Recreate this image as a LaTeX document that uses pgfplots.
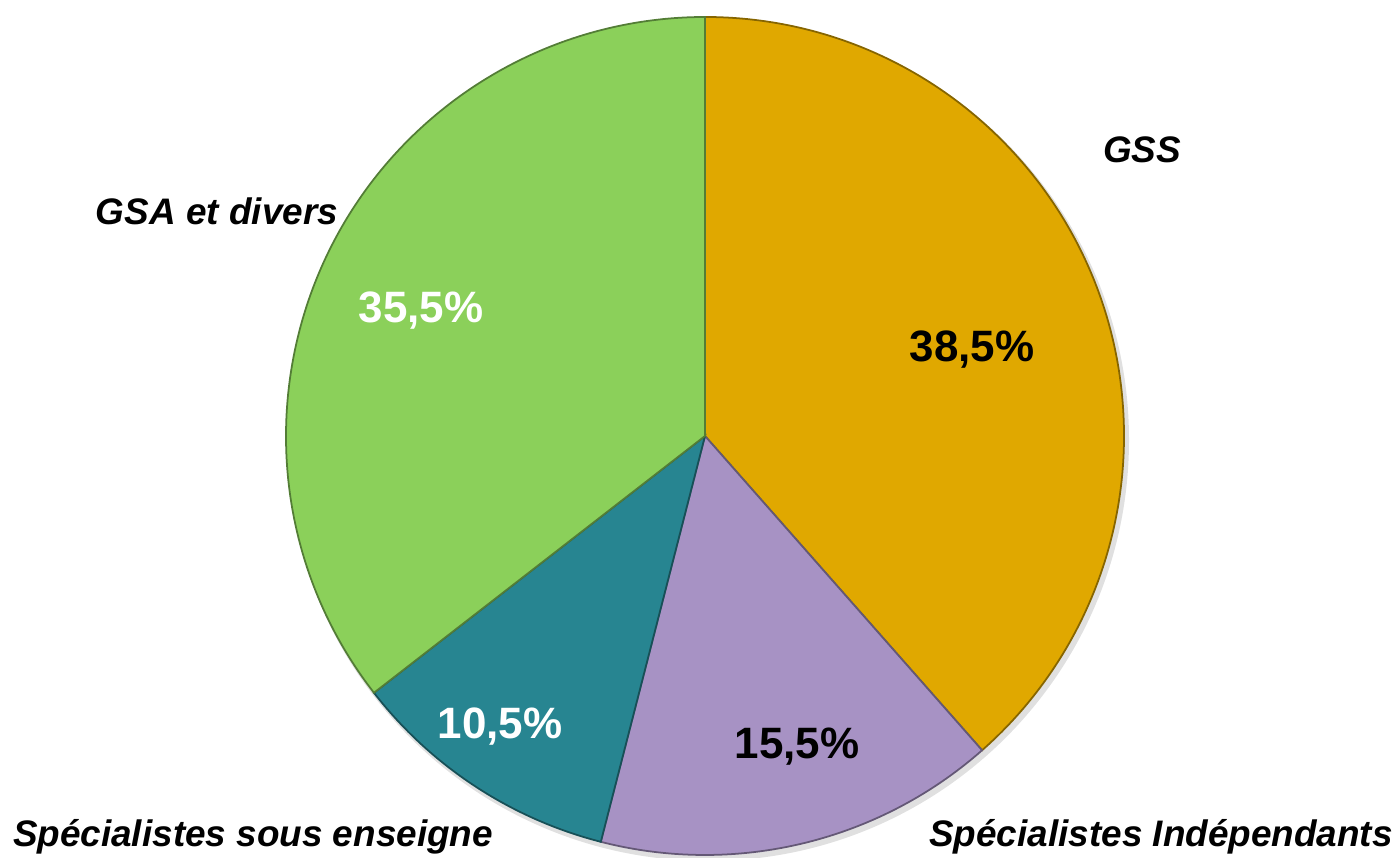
\documentclass[border=0pt]{standalone}
\usepackage{pgfplots}
\pgfplotsset{compat=1.18}
\usepackage{pgfplotstable}
\usepackage{fontspec}
\setmainfont{Liberation Sans}
\definecolor{cGSS}{RGB}{224,168,0}
\definecolor{cInd}{RGB}{167,146,196}
\definecolor{cEns}{RGB}{39,133,145}
\definecolor{cGSA}{RGB}{139,208,90}
\pgfplotstableread{
name value
GSS 38.5
Ind 15.5
Ens 10.5
GSA 35.5
}\piedata
\begin{document}
\begin{tikzpicture}
\useasboundingbox (0,0) rectangle (14,8.58);
\begin{axis}[
  at={(0,0)}, anchor=south west,
  x=1cm, y=1cm,
  xmin=0, xmax=14, ymin=0, ymax=8.58,
  hide axis, clip=false,
]
\def\cx{7.05}
\def\cy{4.22}
\def\R{4.19}
\pgfplotstablegetelem{0}{value}\of\piedata \let\va\pgfplotsretval
\pgfplotstablegetelem{1}{value}\of\piedata \let\vb\pgfplotsretval
\pgfplotstablegetelem{2}{value}\of\piedata \let\vc\pgfplotsretval
\pgfplotstablegetelem{3}{value}\of\piedata \let\vd\pgfplotsretval
\pgfmathsetmacro{\aA}{90}
\pgfmathsetmacro{\aB}{90-3.6*\va}
\pgfmathsetmacro{\aC}{\aB-3.6*\vb}
\pgfmathsetmacro{\aD}{\aC-3.6*\vc}
\pgfmathsetmacro{\aE}{\aD-3.6*\vd}
% shadow
\fill[black!12] (axis cs:\cx+0.03,\cy-0.04) circle[radius=\R cm+0.02cm];
\filldraw[fill=cGSS, draw=cGSS!60!black, line width=0.5pt]
  (axis cs:\cx,\cy) -- (axis cs:{\cx+\R*cos(\aA)},{\cy+\R*sin(\aA)})
  arc[start angle=\aA, end angle=\aB, radius=\R cm] -- cycle;
\filldraw[fill=cInd, draw=cInd!60!black, line width=0.5pt]
  (axis cs:\cx,\cy) -- (axis cs:{\cx+\R*cos(\aB)},{\cy+\R*sin(\aB)})
  arc[start angle=\aB, end angle=\aC, radius=\R cm] -- cycle;
\filldraw[fill=cEns, draw=cEns!60!black, line width=0.5pt]
  (axis cs:\cx,\cy) -- (axis cs:{\cx+\R*cos(\aC)},{\cy+\R*sin(\aC)})
  arc[start angle=\aC, end angle=\aD, radius=\R cm] -- cycle;
\filldraw[fill=cGSA, draw=cGSA!60!black, line width=0.5pt]
  (axis cs:\cx,\cy) -- (axis cs:{\cx+\R*cos(\aD)},{\cy+\R*sin(\aD)})
  arc[start angle=\aD, end angle=\aE, radius=\R cm] -- cycle;
% percentages
\node[font=\bfseries\fontsize{12.5}{14}\selectfont, text=black] at (axis cs:9.72,5.08) {38,5\%};
\node[font=\bfseries\fontsize{12.5}{14}\selectfont, text=black] at (axis cs:7.97,1.11) {15,5\%};
\node[font=\bfseries\fontsize{12.5}{14}\selectfont, text=white] at (axis cs:5.00,1.31) {10,5\%};
\node[font=\bfseries\fontsize{12.5}{14}\selectfont, text=white] at (axis cs:4.21,5.47) {35,5\%};
% labels
\node[font=\bfseries\itshape\fontsize{10.5}{12}\selectfont] at (axis cs:11.42,7.08) {GSS};
\node[font=\bfseries\itshape\fontsize{10.5}{12}\selectfont] at (axis cs:2.17,6.47) {GSA et divers};
\node[font=\bfseries\itshape\fontsize{10.5}{12}\selectfont, anchor=base] at (axis cs:2.53,0.11) {Spécialistes sous enseigne};
\node[font=\bfseries\itshape\fontsize{10.5}{12}\selectfont, anchor=base] at (axis cs:11.61,0.11) {Spécialistes Indépendants};
\end{axis}
\end{tikzpicture}
\end{document}
